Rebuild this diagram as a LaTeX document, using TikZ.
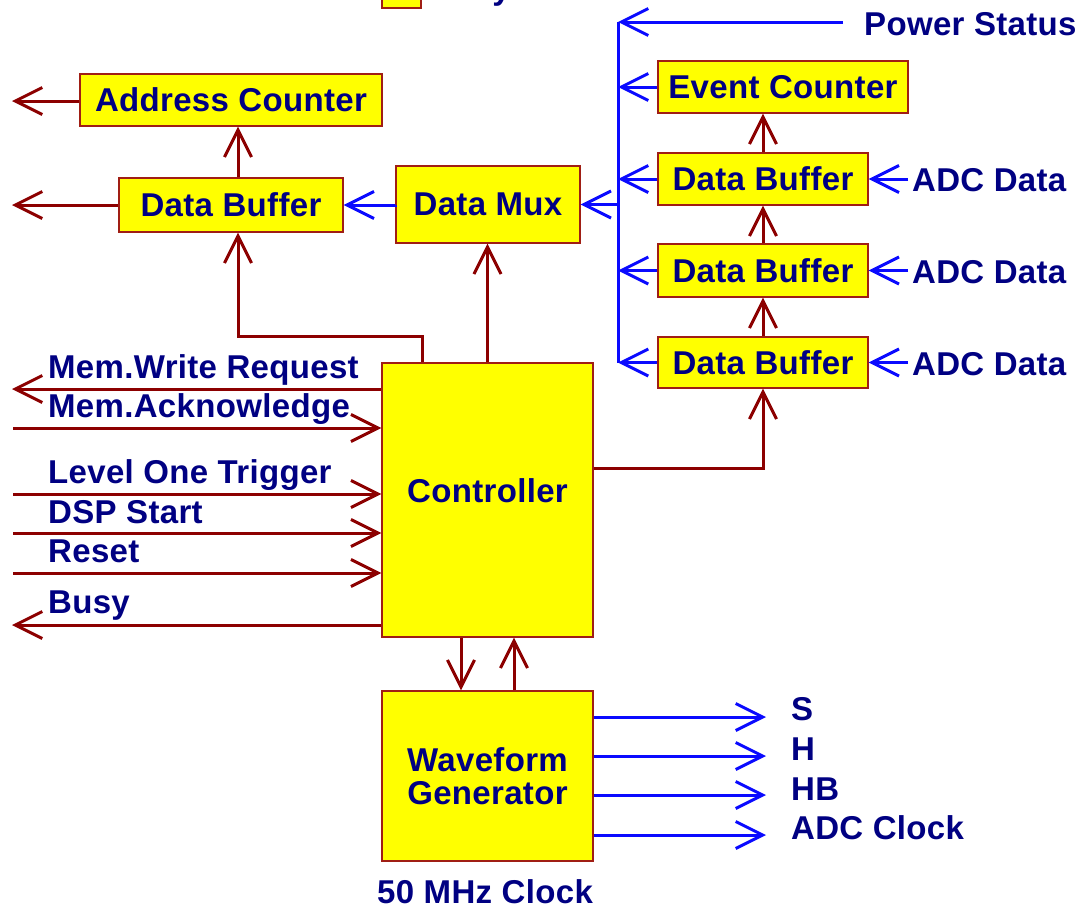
\documentclass[tikz,border=0pt]{standalone}
\usepackage{fontspec}
\setmainfont{Liberation Sans}[LetterSpace=1]
\usetikzlibrary{arrows.meta}

\definecolor{boxfill}{RGB}{255,255,0}
\definecolor{boxline}{RGB}{160,30,20}
\definecolor{sigred}{RGB}{140,0,0}
\definecolor{sigblue}{RGB}{10,10,255}
\definecolor{txt}{RGB}{0,0,130}
\newcommand\lblfont{\fontsize{33}{33}\selectfont\bfseries}

\tikzset{
  blk/.style={draw=boxline, fill=boxfill, line width=1.4pt, inner sep=0pt,
              text=txt, font=\lblfont, align=center},
  lbl/.style={inner sep=0pt, text=txt, font=\lblfont, anchor=base west},
  rline/.style={draw=sigred, line width=3pt},
  bline/.style={draw=sigblue, line width=3pt},
  tip/.style={-{Straight Barb[length=27pt,width=27pt]}},
}

\begin{document}
\begin{tikzpicture}[x=1pt,y=-1pt]
\useasboundingbox (0,0) rectangle (1084,908);

% legend entry cut by the top edge
\begin{scope}
  \clip (0,0) rectangle (1084,908);
  \node[blk, minimum width=39pt, minimum height=40pt] (legbox) at (401.5,-12) {};
  \node[lbl] (legtxt) at (429,-0.5) {Busy};
\end{scope}

% blocks
\node[blk, minimum width=302pt, minimum height=52pt] (addr) at (231,100) {Address Counter};
\node[blk, minimum width=224pt, minimum height=54pt] (dbL)  at (231,205) {Data Buffer};
\node[blk, minimum width=184pt, minimum height=77pt] (mux)  at (488,204.5) {Data Mux};
\node[blk, minimum width=250pt, minimum height=52pt] (evt)  at (783,87) {Event Counter};
\node[blk, minimum width=210pt, minimum height=52pt] (db1)  at (763,179) {Data Buffer};
\node[blk, minimum width=210pt, minimum height=53pt] (db2)  at (763,270.5) {Data Buffer};
\node[blk, minimum width=210pt, minimum height=51pt] (db3)  at (763,362.5) {Data Buffer};
\node[blk, minimum width=211pt, minimum height=274pt] (ctrl) at (487.5,500) {};
\node[lbl, anchor=center] (ctrlname) at (ctrl.center |- 0,491) {Controller};
\node[blk, minimum width=211pt, minimum height=170pt] (wave) at (487.5,776) {Waveform\\Generator};
\node[lbl] (clk) at (377,903) {50 MHz Clock};

% external labels
\node[lbl] (ps)   at (864,35)  {Power Status};
\node[lbl] (adc1) at (912,191) {ADC Data};
\node[lbl] (adc2) at (912,283) {ADC Data};
\node[lbl] (adc3) at (912,375) {ADC Data};
\node[lbl] (lmwr) at (48,378) {Mem.Write Request};
\node[lbl] (lack) at (48,417) {Mem.Acknowledge};
\node[lbl] (llot) at (48,483) {Level One Trigger};
\node[lbl] (ldsp) at (48,523) {DSP Start};
\node[lbl] (lrst) at (48,562) {Reset};
\node[lbl] (lbsy) at (48,613) {Busy};
\node[lbl] (lS)   at (791,720) {S};
\node[lbl] (lH)   at (791,760) {H};
\node[lbl] (lHB)  at (791,800) {HB};
\node[lbl] (lADC) at (791,839) {ADC Clock};

% free ends of the connectors
\coordinate (acOut)  at (12,101);
\coordinate (dbOut)  at (12,205);
\coordinate (mwr)    at (12,389);
\coordinate (mack)   at (13,428);
\coordinate (lot)    at (13,494);
\coordinate (dsp)    at (13,533);
\coordinate (rst)    at (13,573);
\coordinate (bsy)    at (12,625);
\coordinate (busTop) at (618,22);
\coordinate (busBot) at (618,363);
\coordinate (psIn)   at (843,22);
\coordinate (bend)   at (238,336);
\coordinate (oS)     at (766,717);
\coordinate (oH)     at (766,756);
\coordinate (oHB)    at (766,795);
\coordinate (oADC)   at (766,835);

% dark red connectors
\draw[rline,tip] (addr.west |- acOut) -- (acOut);
\draw[rline,tip] (dbL.west) -- (dbOut);
\draw[rline,tip] ([xshift=7pt]dbL.north) -- ([xshift=7pt]dbL.north |- addr.south);
\draw[rline,tip] ([xshift=-65.5pt]ctrl.north) |- (bend) -- (bend |- dbL.south);
\draw[rline,tip] (ctrl.north) -- (ctrl.north |- mux.south);
\draw[rline,tip] ([yshift=32pt]ctrl.east) -| (db3.south);
\draw[rline,tip] (db3.north) -- (db2.south);
\draw[rline,tip] (db2.north) -- (db1.south);
\draw[rline,tip] (db1.north) -- (db1.north |- evt.south);
\draw[rline,tip] (ctrl.west |- mwr) -- (mwr);
\draw[rline,tip] (mack) -- (ctrl.west |- mack);
\draw[rline,tip] (lot) -- (ctrl.west |- lot);
\draw[rline,tip] (dsp) -- (ctrl.west |- dsp);
\draw[rline,tip] (rst) -- (ctrl.west |- rst);
\draw[rline,tip] (ctrl.west |- bsy) -- (bsy);
\draw[rline,tip] (ctrl.south -| 461,0) -- (wave.north -| 461,0);
\draw[rline,tip] (wave.north -| 514,0) -- (ctrl.south -| 514,0);

% blue connectors
\draw[bline] (busTop) -- (busBot);
\draw[bline,tip] (psIn) -- (busTop);
\draw[bline,tip] (evt.west) -- (evt.west -| busTop);
\draw[bline,tip] (db1.west) -- (db1.west -| busTop);
\draw[bline,tip] (db2.west) -- (db2.west -| busTop);
\draw[bline,tip] (db3.west) -- (db3.west -| busTop);
\draw[bline,tip] (busTop |- mux.east) -- (mux.east);
\draw[bline,tip] (mux.west) -- (mux.west |- dbL.east) -- (dbL.east);
\draw[bline,tip] ([xshift=-4pt]adc1.west |- db1.east) -- (db1.east);
\draw[bline,tip] ([xshift=-4pt]adc2.west |- db2.east) -- (db2.east);
\draw[bline,tip] ([xshift=-4pt]adc3.west |- db3.east) -- (db3.east);
\draw[bline,tip] (wave.east |- oS) -- (oS);
\draw[bline,tip] (wave.east |- oH) -- (oH);
\draw[bline,tip] (wave.east |- oHB) -- (oHB);
\draw[bline,tip] (wave.east |- oADC) -- (oADC);
\end{tikzpicture}
\end{document}
